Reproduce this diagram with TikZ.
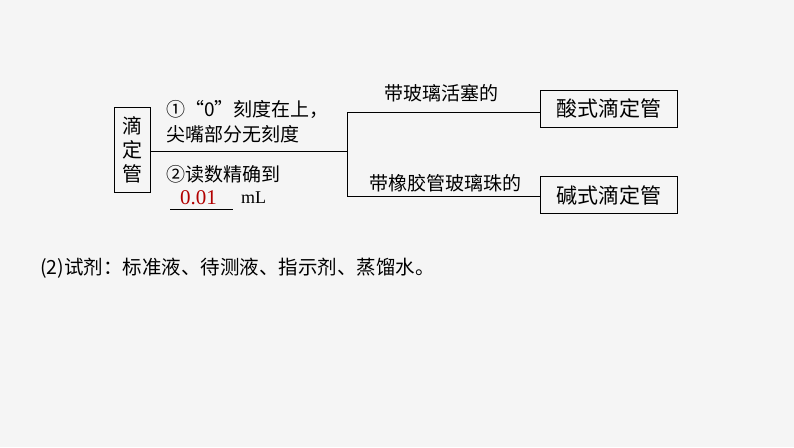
\documentclass[tikz,border=0pt]{standalone}
\usepackage{fontspec}
\setmainfont{Liberation Serif}
\newfontfamily\cjk{Noto Sans CJK SC}
\begin{document}
\begin{tikzpicture}[x=1pt,y=-1pt,
  t/.style={inner sep=0pt,font=\cjk\fontsize{19}{22}\selectfont,anchor=west},
  bx/.style={draw,line width=1pt,inner sep=4pt,font=\cjk\fontsize{21}{24}\selectfont},
  ln/.style={line width=1pt}]
\fill[gray!8] (0,0) rectangle (794,447);
\useasboundingbox (0,0) rectangle (794,447);
\node[bx,minimum width=36pt,minimum height=85pt,align=center,inner sep=1pt,font=\cjk\fontsize{20}{24}\selectfont] (L) at (132.5,149.5) {滴\\定\\管};
\node[bx,minimum width=137pt,minimum height=37pt] (A) at (608.5,108.5) {酸式滴定管};
\node[bx,minimum width=137pt,minimum height=37pt] (B) at (608.5,195) {碱式滴定管};
\coordinate (J) at (347,151);
\coordinate (JT) at (347,112);
\coordinate (JB) at (347,196);
\draw[ln] (L.east|-J) -- (J);
\draw[ln] (JT) -- (JB);
\draw[ln] (JT) -- (A.west|-JT);
\draw[ln] (JB) -- (B.west|-JB);
\node[t] (a1) at (166,109) {①“0”刻度在上，};
\node[t] (a2) at (166,134) {尖嘴部分无刻度};
\node[t] (a3) at (166,174) {②读数精确到};
\node[t,font=\fontsize{21}{24}\selectfont,text=red!70!black] (v) at (180,198) {0.01};
\coordinate (u1) at (170,209); \coordinate (u2) at (233,209);
\draw[line width=0.8pt] (u1) -- (u2);
\node[t,font=\fontsize{18}{20}\selectfont] (ml) at (241,198) {mL};
\node[t,anchor=center] (lt) at (441,93) {带玻璃活塞的};
\node[t,anchor=center] (lb) at (445,183) {带橡胶管玻璃珠的};
\node[t,font=\cjk\fontsize{19.5}{22}\selectfont] (r) at (40,268) {(2)试剂：标准液、待测液、指示剂、蒸馏水。};
\end{tikzpicture}
\end{document}
